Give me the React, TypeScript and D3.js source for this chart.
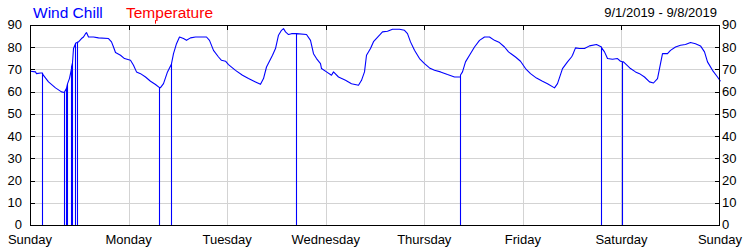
import React from "react";
import * as d3 from "d3";

// Hours since Sunday 9/1/2019 00:00 and wind chill (°F); zeros are sensor dropouts
const hours: number[] = [
  0, 1.1, 1.5, 2.5, 2.92, 2.92, 2.92, 3.2, 4.4, 6.0, 7.6, 8.2, 8.2, 8.2, 8.7, 8.7, 8.7,
  9.1, 9.1, 9.1, 9.5, 9.9, 10.06, 10.06, 10.06, 10.3, 10.3, 10.3, 10.5, 10.9, 11.03, 11.03,
  11.03, 11.44, 11.44, 11.44, 11.7, 12.5, 12.9, 13.3, 13.7, 14.1, 15.3, 16.5, 19.0, 19.6,
  20.2, 20.8, 21.8, 23.0, 24.3, 25.1, 25.9, 26.7, 27.9, 29.1, 30.4, 31.4, 31.4, 31.4, 31.6,
  32.4, 33.4, 34.26, 34.26, 34.26, 34.8, 35.6, 36.4, 37.3, 38.1, 38.9, 40.1, 41.7, 42.9,
  43.7, 44.6, 45.8, 46.6, 47.4, 48.2, 49.8, 51.5, 53.1, 54.7, 55.9, 56.7, 57.5, 58.8, 59.6,
  60.4, 61.0, 61.6, 62.0, 62.8, 63.6, 64.85, 64.85, 64.85, 67.3, 68.1, 68.9, 69.7, 70.5,
  70.9, 72.1, 73.4, 73.8, 75.0, 76.6, 78.2, 79.9, 80.7, 81.3, 81.9, 82.7, 83.5, 84.3, 84.9,
  85.7, 86.9, 88.1, 89.8, 91.0, 91.8, 92.6, 93.4, 94.6, 95.9, 97.1, 98.3, 99.9, 101.5,
  103.2, 104.8, 104.8, 104.8, 105.2, 106.0, 106.8, 108.1, 109.3, 110.5, 111.7, 112.9,
  114.1, 115.3, 116.5, 118.2, 119.4, 120.6, 121.8, 123.1, 124.7, 125.9, 127.5, 128.3,
  129.5, 130.8, 131.6, 132.0, 132.8, 133.6, 134.8, 136.1, 137.7, 138.95, 138.95, 138.95,
  139.7, 140.5, 141.7, 142.9, 143.7, 144.1, 144.1, 144.1, 144.5, 146.1, 147.3, 148.2,
  149.4, 150.6, 151.8, 152.6, 153.4, 153.8, 155.0, 155.9, 157.1, 158.3, 159.5, 160.7,
  161.9, 163.1, 164.0, 164.8, 166.0, 167.2, 168.0,
];

const windChill: number[] = [
  69.2, 68.9, 68.1, 68.4, 68.4, 0, 68.2, 67.3, 64.4, 61.7, 59.9, 59.6, 0, 59.8, 61.5, 0, 61.5,
  63.5, 0, 63.5, 66, 70.4, 71, 0, 71.2, 73, 0, 73, 79.4, 81.6, 81.6, 0,
  81.8, 82.2, 0, 82.3, 82.4, 83.9, 84.6, 86.1, 86.6, 84.6, 84.6, 84.2, 83.9, 82.4,
  80.1, 77.6, 76.4, 74.9, 74.1, 71.9, 68.9, 68.1, 66.6, 64.7, 63.2, 61.8, 0, 61.8, 61.8,
  63.6, 68.9, 72.5, 0, 72.6, 77.1, 81.6, 84.6, 83.9, 83.1, 84.2, 84.6, 84.6, 84.6,
  83.1, 78.6, 75.6, 74.1, 73.7, 72.2, 69.6, 67.4, 65.9, 64.4, 63.3, 65.9, 71.1, 76.4, 79.4,
  85.4, 87.6, 88.4, 86.9, 85.7, 86.1, 86.1, 0, 86.1, 85.7, 83.1, 77.1, 74.9, 72.6,
  70.4, 68.9, 67.4, 68.9, 66.6, 65.1, 63.6, 62.9, 65.1, 68.9, 76.4, 79.4, 82.5, 84.0, 85.4,
  86.9, 87.2, 88.1, 88.1, 87.6, 86.1, 82.4, 78.6, 74.9, 72.6, 70.7, 69.6, 68.9, 67.7,
  66.6, 66.6, 0, 67.5, 68.9, 73.4, 76.4, 80.1, 83.1, 84.6, 84.6, 83.1,
  82.1, 80.1, 77.9, 75.6, 73.7, 70.4, 68.1, 66.1, 64.7, 63.6, 61.7, 63.6,
  70.4, 73.4, 75.6, 76.4, 79.7, 79.4, 79.4, 80.6, 81.2, 80.1, 0, 79.8,
  77.9, 74.9, 74.6, 74.9, 73.7, 73.5, 0, 73.4, 73.4, 70.4, 68.9, 68.1,
  66.6, 64.4, 63.9, 65.9, 72.6, 77.1, 77.1, 78.6, 80.1, 80.9, 81.2, 82.1,
  81.6, 80.6, 77.9, 73.4, 69.6, 66.6, 64.7,
];

// Temperature reads the same as wind chill (drawn beneath it); only a tiny
// off-scale reading shows above the frame
const tempSpikeHours: number[] = [30.4, 30.4];
const tempSpikeValues: number[] = [90.6, 92.2];

const dayLabels: string[] = [
  "Sunday", "Monday", "Tuesday", "Wednesday", "Thursday", "Friday", "Saturday", "Sunday",
];
const yTicks: number[] = [0, 10, 20, 30, 40, 50, 60, 70, 80, 90];
const legend = [
  { label: "Wind Chill", color: "#0000ff" },
  { label: "Temperature", color: "#ff0000" },
];
const dateRange = "9/1/2019 - 9/8/2019";

const W = 750;
const H = 250;
const left = 30;
const right = 720;
const top = 25;
const bottom = 225;
const FONT = "'Liberation Sans', Arial, sans-serif";

export default function App() {
  const x = d3.scaleLinear().domain([0, 168]).range([left, right]);
  const y = d3.scaleLinear().domain([0, 90]).range([bottom, top]);

  const pts: [number, number][] = hours.map((h, i) => [h, windChill[i]]);
  const spikePts: [number, number][] = tempSpikeHours.map((h, i) => [h, tempSpikeValues[i]]);

  const line = d3
    .line<[number, number]>()
    .x((d) => Math.round(x(d[0])) + 0.5)
    .y((d) => y(d[1]));

  const dayHours = dayLabels.map((_, i) => i * 24);

  return (
    <svg
      width={W}
      height={H}
      style={{ position: "absolute", left: 0, top: 0, background: "#fff" }}
      fontFamily={FONT}
    >
      <rect x={0} y={0} width={W} height={H} fill="#fff" />
      {/* horizontal grid */}
      {yTicks.slice(1, -1).map((t) => (
        <line
          key={"hg" + t}
          x1={left}
          x2={right}
          y1={Math.round(y(t)) + 0.5}
          y2={Math.round(y(t)) + 0.5}
          stroke="#d3d3d3"
          strokeWidth={1}
        />
      ))}
      {/* vertical grid */}
      {dayHours.slice(1, -1).map((h) => (
        <line
          key={"vg" + h}
          x1={Math.round(x(h)) + 0.5}
          x2={Math.round(x(h)) + 0.5}
          y1={top}
          y2={bottom}
          stroke="#d3d3d3"
          strokeWidth={1}
        />
      ))}
      {/* axis ticks */}
      {yTicks.slice(1, -1).map((t) => (
        <g key={"yt" + t}>
          <line x1={left} x2={left + 5} y1={Math.round(y(t)) + 0.5} y2={Math.round(y(t)) + 0.5} stroke="#000" />
          <line x1={right - 5} x2={right} y1={Math.round(y(t)) + 0.5} y2={Math.round(y(t)) + 0.5} stroke="#000" />
        </g>
      ))}
      {dayHours.slice(1, -1).map((h) => (
        <line
          key={"xt" + h}
          x1={Math.round(x(h)) + 0.5}
          x2={Math.round(x(h)) + 0.5}
          y1={top}
          y2={top + 5}
          stroke="#000"
        />
      ))}
      {/* series */}
      <path d={line(spikePts) || ""} fill="none" stroke="#ff0000" strokeWidth={1} />
      <path d={line(pts) || ""} fill="none" stroke="#0000ff" strokeWidth={1.1} strokeLinejoin="round" />
      {/* frame */}
      <rect
        x={left + 0.5}
        y={top + 0.5}
        width={right - left - 1}
        height={bottom - top}
        fill="none"
        stroke="#000"
        strokeWidth={1}
      />
      {/* y labels */}
      {yTicks.map((t) => (
        <g key={"yl" + t} fontSize={13} fill="#000">
          <text x={left - 8} y={y(t)} dy="0.34em" textAnchor="end">
            {t}
          </text>
          <text x={right + 2} y={y(t)} dy="0.34em" textAnchor="start">
            {t}
          </text>
        </g>
      ))}
      {/* x labels */}
      {dayLabels.map((d, i) => (
        <text key={"xl" + i} x={x(dayHours[i])} y={244} textAnchor="middle" fontSize={13} fill="#000">
          {d}
        </text>
      ))}
      {/* legend */}
      <text x={33} y={18} fontSize={15.5} fill={legend[0].color}>
        {legend[0].label}
      </text>
      <text x={126} y={18} fontSize={15.5} fill={legend[1].color}>
        {legend[1].label}
      </text>
      <text x={717} y={17} fontSize={13} textAnchor="end" fill="#000">
        {dateRange}
      </text>
    </svg>
  );
}
